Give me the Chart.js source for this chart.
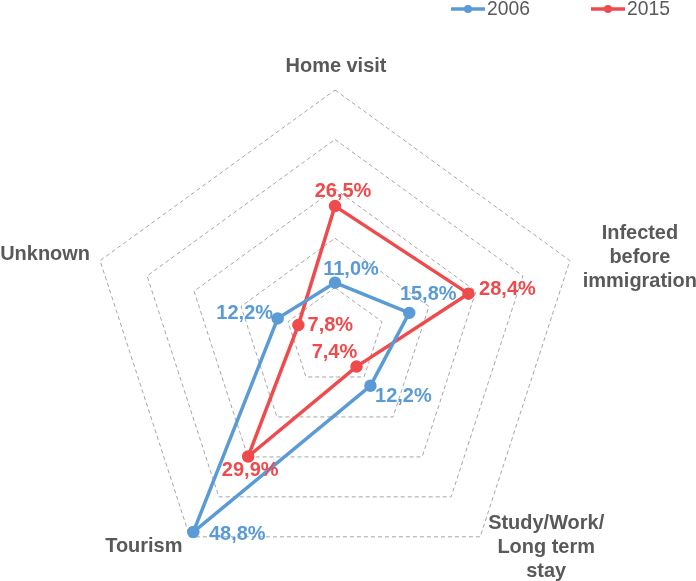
<!DOCTYPE html>
<html><head><meta charset="utf-8">
<script src="https://cdn.jsdelivr.net/npm/chart.js@4"></script>
<style>html,body{margin:0;padding:0;background:#fff}#wrap{width:696px;height:581px}</style>
</head><body><div id="wrap"><canvas id="c" width="696" height="581"></canvas></div>
<script>
// ---- data ----
const categories = [["Home visit"], ["Infected", "before", "immigration"], ["Study/Work/", "Long term", "stay"], ["Tourism"], ["Unknown"]];
const seriesNames = ["2006", "2015"];
const values2006 = [11.0, 15.8, 12.2, 48.8, 12.2];
const values2015 = [26.5, 28.4, 7.4, 29.9, 7.8];
const scaleMin = 0, scaleMax = 50, scaleStep = 10;

// ---- styling / layout ----
const colors = ["#5B9BD5", "#EF4A4C"];
const textColor = "#595959";
const FONT = "'Liberation Sans', Arial, sans-serif";
// value-label text centers relative to their point
const valueLabelOffsets = [
  [[16, -13], [19, -18], [33, 11], [44, 2], [-33, -5]],
  [[8, -15], [39, -4], [-22, -14], [2, 14], [32, 0]]
];
// category label block centers relative to outer vertex
const catLabelOffsets = [[1, -24], [70, -3], [66, 10], [-46, 9], [-55, -6]];
const catLineHeight = 24;

function fmt(v) { return v.toFixed(1).replace('.', ',') + '%'; }
function txt(ctx, t, x, y, sx) {
  ctx.save(); ctx.translate(x, y); ctx.scale(sx, 1); ctx.fillText(t, 0, 0); ctx.restore();
}

const overlay = {
  id: 'overlay',
  afterDatasetsDraw(chart) {
    const ctx = chart.ctx;
    const s = chart.scales.r;
    ctx.save();
    ctx.textAlign = 'center';
    ctx.textBaseline = 'middle';
    // category labels
    ctx.font = "bold 21px " + FONT;
    ctx.fillStyle = textColor;
    categories.forEach((lines, i) => {
      const p = s.getPointPosition(i, s.drawingArea);
      const cx = p.x + catLabelOffsets[i][0];
      const cy = p.y + catLabelOffsets[i][1];
      const n = lines.length;
      lines.forEach((t, k) => {
        txt(ctx, t, cx, cy + (k - (n - 1) / 2) * catLineHeight, 0.95);
      });
    });
    // value labels
    ctx.font = "bold 20px " + FONT;
    chart.data.datasets.forEach((ds, di) => {
      const meta = chart.getDatasetMeta(di);
      ctx.fillStyle = colors[di];
      meta.data.forEach((el, i) => {
        const o = valueLabelOffsets[di][i];
        ctx.fillText(fmt(ds.data[i]), el.x + o[0], el.y + o[1]);
      });
    });
    // legend
    const legendX = [451, 591];
    ctx.font = "21px " + FONT;
    ctx.textAlign = 'left';
    seriesNames.forEach((name, di) => {
      const x = legendX[di], y = 9;
      ctx.strokeStyle = colors[di];
      ctx.lineWidth = 3.5;
      ctx.beginPath(); ctx.moveTo(x, y); ctx.lineTo(x + 34, y); ctx.stroke();
      ctx.fillStyle = colors[di];
      ctx.beginPath(); ctx.arc(x + 17, y, 4, 0, Math.PI * 2); ctx.fill();
      ctx.fillStyle = textColor;
      txt(ctx, name, x + 36, y, 0.92);
    });
    ctx.restore();
  }
};

new Chart(document.getElementById('c'), {
  type: 'radar',
  data: {
    labels: categories.map(l => l.join(' ')),
    datasets: [
      { label: seriesNames[0], data: values2006 },
      { label: seriesNames[1], data: values2015 }
    ].map((d, i) => Object.assign(d, {
      borderColor: colors[i], backgroundColor: colors[i],
      pointBackgroundColor: colors[i], pointBorderColor: colors[i],
      borderWidth: 3.5, pointRadius: 4.5, pointHoverRadius: 4.5,
      fill: false, tension: 0, clip: false
    }))
  },
  options: {
    responsive: false,
    animation: false,
    events: [],
    plugins: { legend: { display: false }, tooltip: { enabled: false } },
    scales: {
      r: {
        min: scaleMin, max: scaleMax,
        ticks: { stepSize: scaleStep, display: false },
        angleLines: { display: false },
        grid: { color: '#A6A6A6', lineWidth: 1 },
        border: { dash: [4, 3] },
        pointLabels: { display: false },
        afterFit(s) { s.xCenter = 335; s.yCenter = 337; s.drawingArea = 247; }
      }
    }
  },
  plugins: [overlay]
});
</script>
</body></html>
